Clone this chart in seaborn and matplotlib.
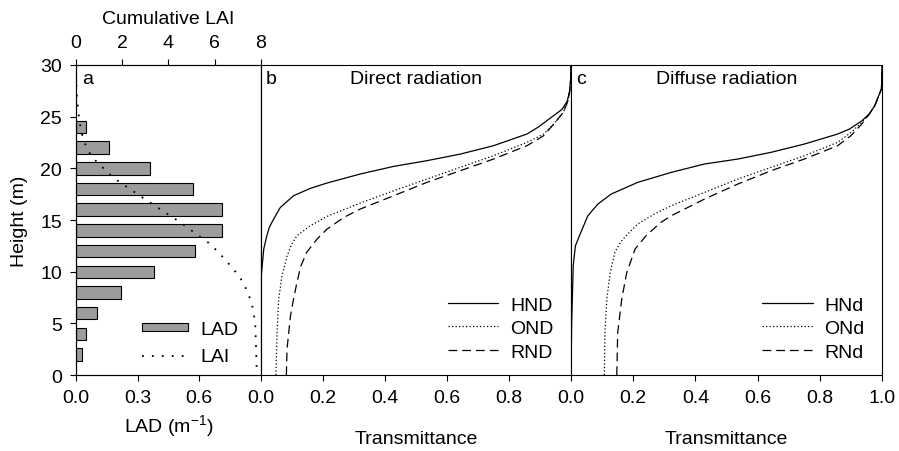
import numpy as np
import matplotlib
matplotlib.use("Agg")
import matplotlib.pyplot as plt
import seaborn as sns

sns.set_style("ticks")
plt.rcParams['font.family'] = ['Liberation Sans', 'DejaVu Sans']
plt.rcParams['font.size'] = 14
plt.rcParams['mathtext.fontset'] = 'custom'
plt.rcParams['mathtext.rm'] = 'Liberation Sans'
for key in ['text.color', 'axes.labelcolor', 'xtick.color', 'ytick.color', 'axes.edgecolor']:
    plt.rcParams[key] = 'black'

### panel a : leaf area density / cumulative LAI ###
lad_height = [2, 4, 6, 8, 10, 12, 14, 16, 18, 20, 22, 24]
lad = [0.03, 0.05, 0.10, 0.22, 0.38, 0.58, 0.71, 0.71, 0.57, 0.36, 0.16, 0.05]

lai_height = [30, 27.5, 26.4, 24.5, 22.7, 21.1, 19.1, 16.9, 14.9, 12.8, 11.9, 10.25, 8.96, 7.0, 5.1, 2.5, 0]
lai = [0, 0.02, 0.06, 0.15, 0.32, 0.68, 1.61, 3.06, 4.43, 5.73, 6.16, 6.81, 7.24, 7.6, 7.75, 7.79, 7.82]

### panel b : direct radiation ###
hnd_h = [0, 5, 9.6, 12.2, 13.5, 14.3, 15.1, 16.2, 17.35, 18.06, 18.58, 19.45, 20.19, 20.74, 21.38, 22.19, 23.32, 24.0, 24.9, 25.7, 26.5, 27.4, 28.6, 30]
hnd = [0.0, 0.0, 0.001, 0.009, 0.019, 0.027, 0.041, 0.062, 0.105, 0.159, 0.213, 0.320, 0.428, 0.535, 0.643, 0.750, 0.858, 0.895, 0.935, 0.971, 0.988, 0.995, 0.999, 1.0]

ond_h = [0, 4.1, 7.35, 9.6, 11.5, 12.6, 13.48, 14.45, 15.35, 16.64, 17.83, 18.96, 20.1, 21.22, 22.51, 23.32, 24.3, 25.4, 26.5, 27.6, 28.6, 30]
ond = [0.048, 0.052, 0.057, 0.068, 0.084, 0.098, 0.116, 0.159, 0.213, 0.320, 0.428, 0.535, 0.643, 0.750, 0.858, 0.912, 0.945, 0.975, 0.990, 0.997, 0.999, 1.0]

rnd_h = [0, 2.5, 5.7, 7.35, 8.95, 10.5, 11.9, 13.16, 14.12, 15.25, 16.06, 17.35, 18.64, 19.77, 20.9, 22.19, 23.16, 24.3, 25.4, 26.5, 27.6, 28.6, 30]
rnd = [0.082, 0.084, 0.095, 0.105, 0.116, 0.128, 0.148, 0.181, 0.213, 0.267, 0.320, 0.428, 0.535, 0.643, 0.750, 0.858, 0.912, 0.945, 0.975, 0.990, 0.997, 0.999, 1.0]

### panel c : diffuse radiation ###
hnd_d_h = [0, 5, 10.6, 12.5, 13.48, 15.41, 16.54, 17.51, 18.64, 19.61, 20.42, 20.9, 21.55, 22.35, 23.32, 23.8, 24.6, 25.3, 26.1, 27.7, 30]
hnd_d = [0.0, 0.002, 0.007, 0.014, 0.027, 0.054, 0.086, 0.129, 0.214, 0.322, 0.429, 0.536, 0.643, 0.750, 0.857, 0.895, 0.935, 0.960, 0.977, 0.998, 1.0]

ond_d_h = [0, 4.1, 7.35, 9.9, 11.9, 12.8, 13.48, 14.61, 15.58, 16.38, 17.67, 18.96, 20.1, 21.22, 22.51, 23.48, 24.45, 25.3, 26.1, 27.7, 30]
ond_d = [0.107, 0.109, 0.115, 0.126, 0.141, 0.158, 0.177, 0.214, 0.268, 0.322, 0.429, 0.536, 0.643, 0.750, 0.857, 0.900, 0.935, 0.960, 0.977, 0.998, 1.0]

rnd_d_h = [0, 4.1, 7.35, 9.9, 12.2, 13.48, 14.77, 15.41, 17.03, 18.48, 19.77, 20.9, 22.19, 23.16, 24.3, 25.3, 26.1, 27.7, 30]
rnd_d = [0.147, 0.150, 0.163, 0.179, 0.206, 0.241, 0.289, 0.322, 0.429, 0.536, 0.643, 0.750, 0.857, 0.900, 0.935, 0.960, 0.977, 0.998, 1.0]

fig = plt.figure(figsize=(8.99, 4.52), dpi=100)
bot, hgt = 0.168, 0.686
ax_a = fig.add_axes([0.0845, bot, 0.2058, hgt])
ax_b = fig.add_axes([0.2903, bot, 0.3448, hgt])
ax_c = fig.add_axes([0.6352, bot, 0.3460, hgt])

tick_kw = dict(direction="out", length=4, width=0.8, pad=6, labelsize=14)

# panel a
ax_a.barh(lad_height, lad, height=1.2, color="#9c9c9c", edgecolor="black", linewidth=0.8, label="LAD")
ax_a.set_xlim(0, 0.9)
ax_a.set_ylim(0, 30)
ax_a.set_xticks([0.0, 0.3, 0.6])
ax_a.set_xticklabels(["0.0", "0.3", "0.6"])
ax_a.set_yticks([0, 5, 10, 15, 20, 25, 30])
ax_a.set_xlabel(r"LAD (m$^{\mathregular{-1}}$)", labelpad=5)
ax_a.set_ylabel("Height (m)", labelpad=9)
ax_a.tick_params(**tick_kw)

ax_top = ax_a.twiny()
sns.lineplot(x=lai, y=lai_height, ax=ax_top, sort=False, estimator=None, color="black",
             linestyle=(0, (1, 4.5)), linewidth=1.3, label="LAI")
ax_top.set_xlim(0, 8)
ax_top.set_xticks([0, 2, 4, 6, 8])
ax_top.set_xlabel("Cumulative LAI", labelpad=8)
ax_top.tick_params(**tick_kw)
ax_top.tick_params(pad=6)

h1, l1 = ax_a.get_legend_handles_labels()
h2, l2 = ax_top.get_legend_handles_labels()
ax_top.legend(h1 + h2, l1 + l2, loc="lower right", frameon=False, handlelength=2.4,
              handleheight=0.25, labelspacing=0.55, fontsize=14, handletextpad=0.6,
              bbox_to_anchor=(0.97, -0.025))
ax_a.text(0.035, 0.955, "a", transform=ax_a.transAxes, va="center", ha="left", fontsize=14)

# panel b and c
panels = [
    (ax_b, "b", "Direct radiation", [(hnd, hnd_h, "HND"), (ond, ond_h, "OND"), (rnd, rnd_h, "RND")], [0.0, 0.2, 0.4, 0.6, 0.8]),
    (ax_c, "c", "Diffuse radiation", [(hnd_d, hnd_d_h, "HNd"), (ond_d, ond_d_h, "ONd"), (rnd_d, rnd_d_h, "RNd")], [0.0, 0.2, 0.4, 0.6, 0.8, 1.0]),
]
styles = ["-", (0, (1, 1.8)), (0, (7, 4))]

for ax, letter, title, curves, ticks in panels:
    for (t, h, name), ls in zip(curves, styles):
        sns.lineplot(x=t, y=h, ax=ax, sort=False, estimator=None, color="black",
                     linestyle=ls, linewidth=0.9, label=name)
    ax.set_xlim(0, 1)
    ax.set_ylim(0, 30)
    ax.set_xticks(ticks)
    ax.set_xticklabels(["%.1f" % v for v in ticks])
    ax.set_yticks([])
    ax.set_xlabel("Transmittance", labelpad=17)
    ax.set_ylabel("")
    ax.tick_params(**tick_kw)
    ax.text(0.015, 0.955, letter, transform=ax.transAxes, va="center", ha="left", fontsize=14)
    ax.text(0.5, 0.955, title, transform=ax.transAxes, va="center", ha="center", fontsize=14)
    ax.legend(loc="lower right", frameon=False, handlelength=2.6, labelspacing=0.3,
              fontsize=14, handletextpad=0.6, bbox_to_anchor=(1.0, -0.01))

for ax in [ax_a, ax_b, ax_c, ax_top]:
    for s in ax.spines.values():
        s.set_linewidth(0.8)
        s.set_color("black")

plt.savefig("out.png", dpi=100)
